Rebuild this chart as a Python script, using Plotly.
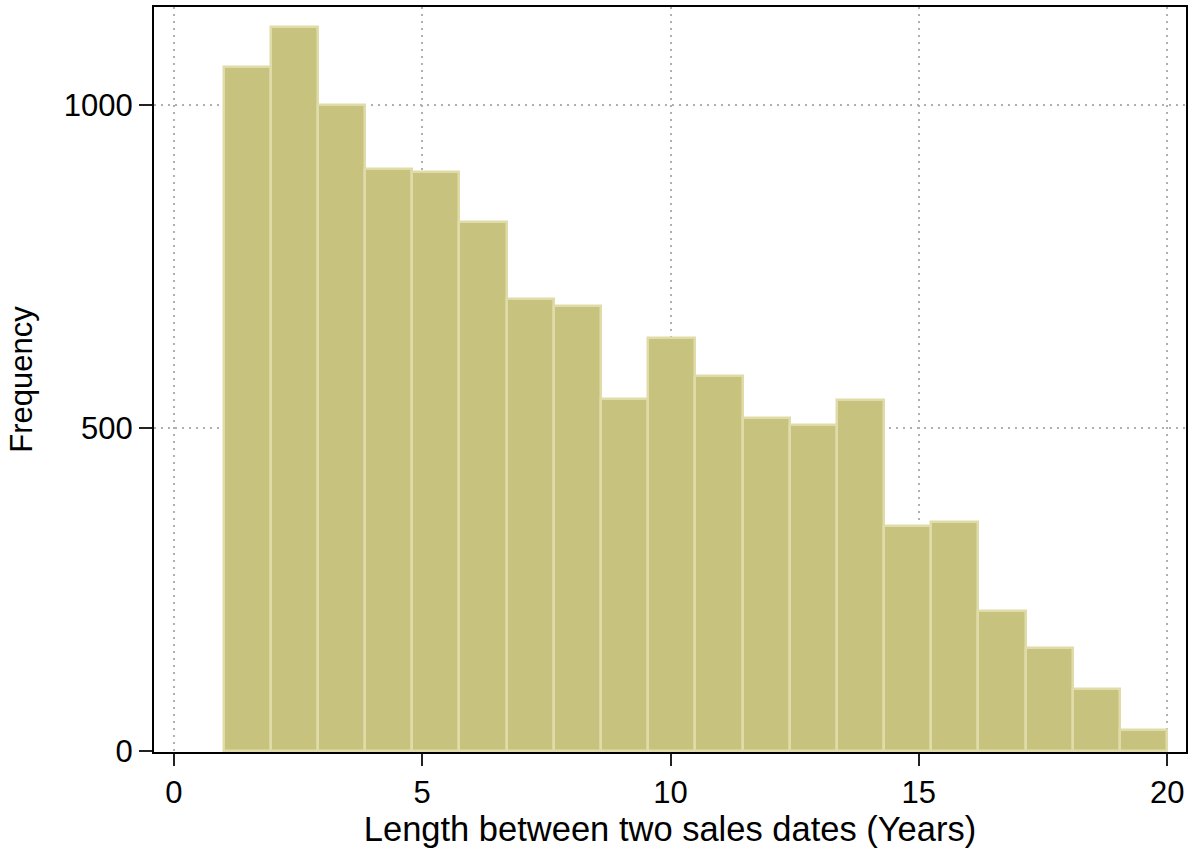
import plotly.graph_objects as go

# Histogram of holding periods: 20 equal-width bins starting at 1 year
bin_start = 1.0
bin_width = 0.95
counts = [1058, 1120, 999, 900, 896, 818, 700, 688, 545, 639,
          581, 516, 504, 544, 349, 355, 217, 160, 97, 33]

x_ticks = [0, 5, 10, 15, 20]
y_ticks = [0, 500, 1000]

centers = [bin_start + bin_width * (i + 0.5) for i in range(len(counts))]

FONT = "Arial, Liberation Sans, sans-serif"

fig = go.Figure(
    go.Bar(
        x=centers,
        y=counts,
        width=bin_width,
        marker=dict(color="#c8c27f", line=dict(color="#e0dcaa", width=2.5)),
        hoverinfo="x+y",
    )
)

fig.update_layout(
    width=1194,
    height=850,
    margin=dict(l=154, r=8, t=5, b=98),
    paper_bgcolor="white",
    plot_bgcolor="white",
    showlegend=False,
    font=dict(family=FONT, size=31, color="black"),
    bargap=0,
)

fig.update_xaxes(
    range=[-0.40, 20.38],
    tickvals=x_ticks,
    ticks="outside",
    ticklen=12,
    tickwidth=2,
    tickcolor="#222",
    tickfont=dict(size=31),
    showgrid=True,
    gridcolor="#b0b0b0",
    gridwidth=1.5,
    griddash="2px,5px",
    zeroline=False,
    showline=True,
    linecolor="black",
    linewidth=2,
    mirror=True,
    title=dict(text="Length between two sales dates (Years)", font=dict(size=34.5), standoff=1),
)

fig.update_yaxes(
    range=[-1, 1151],
    tickvals=y_ticks,
    ticks="outside",
    ticklen=13,
    tickwidth=2,
    tickcolor="#222",
    tickfont=dict(size=31),
    showgrid=True,
    gridcolor="#b0b0b0",
    gridwidth=1.5,
    griddash="2px,5px",
    zeroline=False,
    showline=True,
    linecolor="black",
    linewidth=2,
    mirror=True,
    title=dict(text="Frequency", font=dict(size=31), standoff=22),
)

fig.write_html("out.html")
